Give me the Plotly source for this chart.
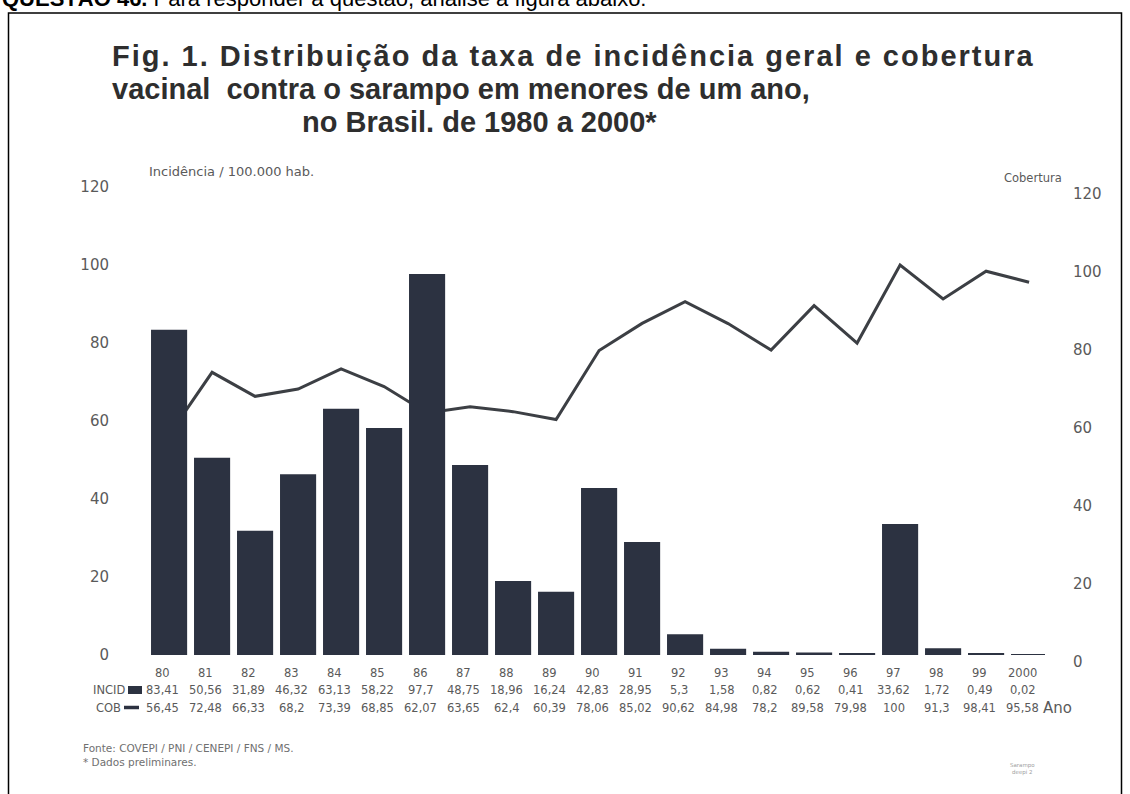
import plotly.graph_objects as go

years = ["80", "81", "82", "83", "84", "85", "86", "87", "88", "89", "90",
         "91", "92", "93", "94", "95", "96", "97", "98", "99", "2000"]
incid = [83.41, 50.56, 31.89, 46.32, 63.13, 58.22, 97.7, 48.75, 18.96, 16.24, 42.83,
         28.95, 5.3, 1.58, 0.82, 0.62, 0.41, 33.62, 1.72, 0.49, 0.02]
cob = [56.45, 72.48, 66.33, 68.2, 73.39, 68.85, 62.07, 63.65, 62.4, 60.39, 78.06,
       85.02, 90.62, 84.98, 78.2, 89.58, 79.98, 100, 91.3, 98.41, 95.58]
incid_labels = ["83,41", "50,56", "31,89", "46,32", "63,13", "58,22", "97,7", "48,75", "18,96", "16,24", "42,83",
                "28,95", "5,3", "1,58", "0,82", "0,62", "0,41", "33,62", "1,72", "0,49", "0,02"]
cob_labels = ["56,45", "72,48", "66,33", "68,2", "73,39", "68,85", "62,07", "63,65", "62,4", "60,39", "78,06",
              "85,02", "90,62", "84,98", "78,2", "89,58", "79,98", "100", "91,3", "98,41", "95,58"]
left_ticks = [0, 20, 40, 60, 80, 100, 120]
right_ticks = [0, 20, 40, 60, 80, 100, 120]

W, H = 1130, 794
ML, MR, MT, MB = 145, 85, 187, 139
PW, PH = W - ML - MR, H - MT - MB


def px(x):
    return (x - ML) / PW


def py(y):
    return (H - MB - y) / PH


FONT = "DejaVu Sans, Verdana, sans-serif"
TFONT = "Liberation Sans, Arial, sans-serif"
GRAY = "#5a5a5a"
BAR = "#2c3241"
idx = list(range(len(years)))
TAB_SHIFT = -0.15

fig = go.Figure()
# coverage line (drawn first, sits behind the bars); both axes share the 0-120 scale
fig.add_trace(go.Scatter(x=idx, y=cob, mode="lines", line=dict(color="#3c3f44", width=3),
                         yaxis="y", showlegend=False, name="COB"))
fig.add_trace(go.Bar(x=idx, y=incid, marker=dict(color=BAR, line=dict(width=0)),
                     yaxis="y2", showlegend=False, name="INCID"))


def txt(x, y, text, size, color=GRAY, xanchor="center", xref="paper", family=FONT):
    return dict(x=x, y=y, xref=xref, yref="paper", text=text, showarrow=False,
                xanchor=xanchor, yanchor="middle", font=dict(size=size, color=color, family=family))


ann = []
for i, y in enumerate(years):
    ann.append(txt(i + TAB_SHIFT, py(673), y, 11.5, xref="x"))
    ann.append(txt(i + TAB_SHIFT, py(690), incid_labels[i], 11.5, xref="x"))
    ann.append(txt(i + TAB_SHIFT, py(708), cob_labels[i], 11.5, xref="x"))

ann += [
    txt(px(127), py(690), "INCID", 11.5, xanchor="right"),
    txt(px(123), py(708), "COB", 11.5, xanchor="right"),
    txt(px(1041), py(708), "Ano", 15, xanchor="left"),
    txt(px(110), py(56),
        "<b><span style='letter-spacing:2px'>Fig. 1. Distribuição da taxa de incidência geral e cobertura</span></b>",
        29, color="#2e2e2e", xanchor="left", family=TFONT),
    txt(px(110), py(89), "<b>vacinal  contra o sarampo em menores de um ano,</b>", 29,
        color="#2e2e2e", xanchor="left", family=TFONT),
    txt(px(300), py(122), "<b>no Brasil. de 1980 a 2000*</b>", 29, color="#2e2e2e", xanchor="left",
        family=TFONT),
    txt(px(147), py(172), "Incidência / 100.000 hab.", 13, xanchor="left"),
    txt(px(1002), py(178), "Cobertura", 11.5, xanchor="left"),
    txt(px(81), py(748), "Fonte: COVEPI / PNI / CENEPI / FNS / MS.", 10.5, color="#707070", xanchor="left"),
    txt(px(81), py(762), "* Dados preliminares.", 10.5, color="#707070", xanchor="left"),
    txt(px(1008), py(769), "Sarampo<br>deepi 2", 5.5, color="#a0a0a0", xanchor="left"),
    dict(x=px(0), y=py(13), xref="paper", yref="paper", xanchor="left", yanchor="bottom", showarrow=False,
         text="<b>QUESTÃO 46.</b> Para responder à questão, analise a figura abaixo:",
         font=dict(size=22, color="#000000", family=TFONT)),
]

shapes = [
    dict(type="rect", xref="paper", yref="paper", x0=px(8.5), x1=px(1121.5), y0=py(812), y1=py(13),
         line=dict(color="#000000", width=1.5), fillcolor="rgba(0,0,0,0)", layer="below"),
    dict(type="rect", xref="paper", yref="paper", x0=px(128), x1=px(142), y0=py(694), y1=py(686),
         line=dict(width=0), fillcolor=BAR),
    dict(type="line", xref="paper", yref="paper", x0=px(124), x1=px(139), y0=py(707.5), y1=py(707.5),
         line=dict(color=BAR, width=3.5)),
]

fig.update_layout(
    width=W, height=H,
    margin=dict(l=ML, r=MR, t=MT, b=MB, pad=0),
    paper_bgcolor="white", plot_bgcolor="white",
    bargap=0.16,
    xaxis=dict(range=[-0.56, 20.37], showticklabels=False, showgrid=False, zeroline=False,
               showline=False, ticks=""),
    yaxis=dict(range=[0, 120], tickvals=left_ticks, showgrid=False, zeroline=False, showline=False,
               ticks="outside", ticklen=32, tickcolor="rgba(0,0,0,0)",
               tickfont=dict(size=15, color=GRAY, family=FONT)),
    yaxis2=dict(range=[0, 120], tickvals=right_ticks, overlaying="y", side="right",
                showgrid=False, zeroline=False, showline=False,
                ticks="outside", ticklen=24, tickcolor="rgba(0,0,0,0)", ticklabelshift=7,
                tickfont=dict(size=15, color=GRAY, family=FONT)),
    annotations=ann,
    shapes=shapes,
    font=dict(family=FONT),
)

fig.write_html("out.html", config={"displayModeBar": False},
               post_script="document.body.style.margin='0px';")
